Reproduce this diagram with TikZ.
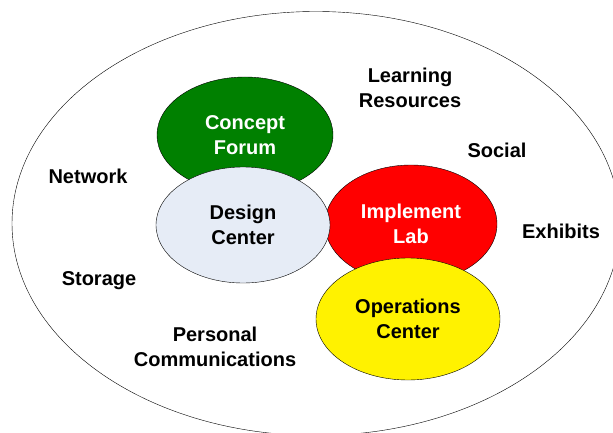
\documentclass[tikz,border=0pt]{standalone}
\usepackage{fontspec}
\setmainfont{Liberation Sans}
\usetikzlibrary{shapes.geometric}

\definecolor{forumgreen}{RGB}{0,128,0}
\definecolor{designblue}{RGB}{230,236,246}

\begin{document}
\begin{tikzpicture}[x=1pt, y=-1pt,
    every node/.style={align=center, font=\fontsize{20}{25}\selectfont\bfseries},
    zone/.style={ellipse, draw, inner sep=0pt}]
            \useasboundingbox (0, 0) rectangle (613, 433);
            \clip (0, 0) rectangle (613, 433);

            \node [zone, minimum width=608pt, minimum height=424pt] (world) at (316, 223.5) {};

            \node [zone, fill=forumgreen, text=white, minimum width=176pt, minimum height=116pt] (forum) at (245, 135) {Concept\\Forum};
            \node [zone, fill=red, text=white, minimum width=172pt, minimum height=118pt] (lab) at (411, 224) {Implement\\Lab};
            \node [zone, fill=designblue, minimum width=174pt, minimum height=116pt] (design) at (243, 225) {Design\\Center};
            \node [zone, fill=yellow, minimum width=184pt, minimum height=122pt] (ops) at (408, 319) {Operations\\Center};

            \node (learning) at (410, 88) {Learning\\Resources};
            \node (social) at (497, 150) {Social};
            \node (network) at (88, 176) {Network};
            \node (exhibits) at (561, 231) {Exhibits};
            \node (storage) at (99, 281) {Storage};
            \node (personal) at (215, 347) {Personal\\Communications};
        \end{tikzpicture}
\end{document}
